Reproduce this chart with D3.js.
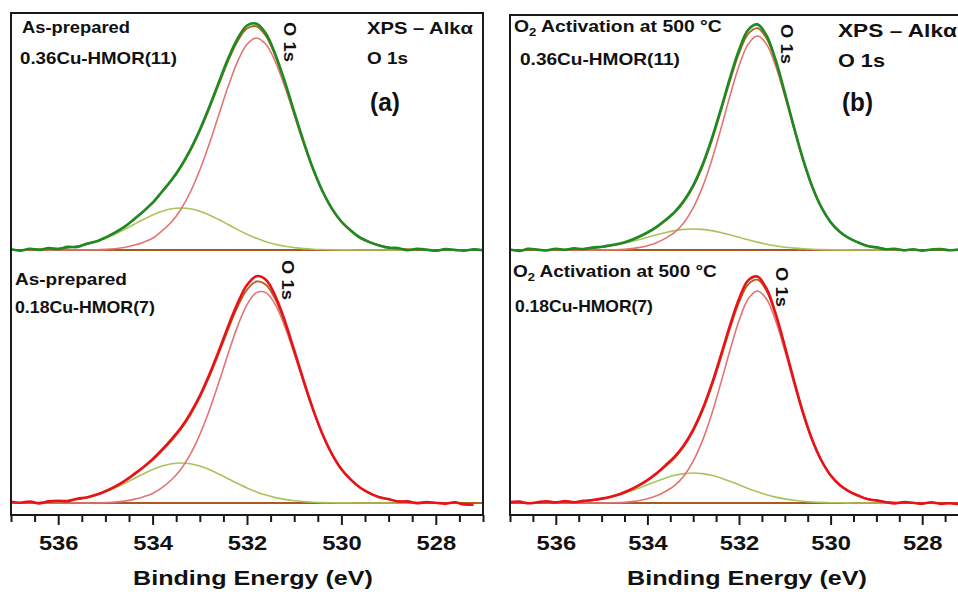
<!DOCTYPE html>
<html>
<head>
<meta charset="utf-8">
<script src="https://cdn.jsdelivr.net/npm/d3@7/dist/d3.min.js"></script>
<style>
  body { margin: 0; background: #fff; }
  svg { display: block; }
  text { font-family: "Liberation Sans", Arial, sans-serif; font-weight: bold; fill: #111; }
</style>
</head>
<body>
<svg id="chart" width="958" height="594"></svg>
<script>
// Binding energy grid (eV), shared by every O 1s spectrum and fitted component
const energy = [537.0, 536.8, 536.6, 536.4, 536.2, 536.0, 535.8, 535.6, 535.4, 535.2,
  535.0, 534.8, 534.6, 534.4, 534.2, 534.0, 533.8, 533.6, 533.4, 533.2,
  533.0, 532.8, 532.6, 532.4, 532.2, 532.0, 531.8, 531.6, 531.4, 531.2,
  531.0, 530.8, 530.6, 530.4, 530.2, 530.0, 529.8, 529.6, 529.4, 529.2,
  529.0, 528.8, 528.6, 528.4, 528.2, 528.0, 527.8, 527.6, 527.4, 527.2, 527.0];

// (a) As-prepared 0.36Cu-HMOR(11): background-subtracted intensity (a.u.)
const aTopData = [0.8, -0.6, 1.2, 0.2, 1.9, 0.9, 3.1, 3.0, 6.2, 8.4,
  12.4, 17.3, 23.1, 30.5, 38.5, 47.3, 58.5, 70.0, 83.8, 100.4,
  120.3, 143.0, 167.4, 191.4, 211.4, 224.5, 226.3, 216.6, 195.6, 168.7,
  138.2, 108.4, 81.3, 59.0, 41.4, 28.5, 19.5, 12.3, 7.9, 4.6,
  2.2, 2.0, -0.3, 1.1, 0.4, -0.8, 0.9, 0.1, -0.7, 0.6, -0.2];
const aTopFit = [0.1, 0.1, 0.3, 0.5, 0.8, 1.4, 2.4, 3.7, 5.7, 8.5,
  12.3, 17.1, 22.9, 30.2, 38.1, 46.8, 57.9, 69.2, 82.8, 99.2,
  118.8, 141.2, 165.3, 188.9, 208.8, 221.5, 223.7, 214.0, 194.1, 167.1,
  137.2, 107.5, 80.8, 58.5, 41.1, 28.1, 19.2, 11.7, 7.6, 4.7,
  2.5, 1.3, 0.6, 0.2, 0, 0, 0, 0, 0, 0, 0];
const aTopMain = [0, 0, 0, 0, 0, 0, 0, 0, 0, 0.2,
  0.6, 1.3, 2.5, 4.7, 7.6, 11.7, 19.1, 28.0, 40.8, 58.0,
  80.0, 106.1, 134.8, 163.4, 188.4, 205.7, 212.0, 205.7, 188.4, 163.4,
  134.8, 106.1, 80.0, 58.0, 40.8, 28.0, 19.1, 11.7, 7.6, 4.7,
  2.5, 1.3, 0.6, 0.2, 0, 0, 0, 0, 0, 0, 0];
const aTopMinor = [0.1, 0.1, 0.3, 0.5, 0.8, 1.4, 2.4, 3.7, 5.7, 8.3,
  11.7, 15.8, 20.4, 25.5, 30.5, 35.1, 38.8, 41.2, 42.0, 41.2,
  38.8, 35.1, 30.5, 25.5, 20.4, 15.8, 11.7, 8.3, 5.7, 3.7,
  2.4, 1.4, 0.8, 0.5, 0.3, 0.1, 0.1, 0, 0, 0,
  0, 0, 0, 0, 0, 0, 0, 0, 0, 0, 0];

// (a) As-prepared 0.18Cu-HMOR(7)
const aBotData = [1.2, 0.3, 1.5, -0.4, 1.6, 2.3, 1.9, 4.2, 5.6, 8.2,
  11.8, 16.3, 21.9, 28.6, 35.8, 43.9, 53.3, 63.7, 75.2, 89.7,
  107.2, 128.3, 151.8, 176.6, 199.6, 218.0, 226.8, 223.2, 207.0, 182.4,
  152.8, 122.3, 93.6, 68.7, 48.9, 33.8, 23.4, 15.2, 9.8, 5.7,
  3.9, 1.5, 1.6, -0.2, 0.9, 0.2, -0.6, 0.7, -1.4, -1.8, null];
const aBotFit = [0.1, 0.1, 0.2, 0.4, 0.8, 1.4, 2.2, 3.6, 5.4, 7.9,
  11.5, 15.9, 21.4, 27.9, 35.1, 42.9, 52.2, 62.4, 73.8, 88.0,
  105.3, 126.0, 149.2, 173.6, 196.1, 213.3, 221.5, 218.3, 203.7, 180.2,
  151.5, 121.6, 93.4, 68.8, 49.0, 33.9, 23.3, 15.3, 9.5, 6.1,
  3.6, 1.9, 0.9, 0.4, 0, 0, 0, 0, 0, 0, 0];
const aBotMain = [0, 0, 0, 0, 0, 0, 0, 0, 0, 0,
  0.4, 0.9, 1.9, 3.6, 6.1, 9.5, 15.3, 23.2, 33.8, 48.8,
  68.4, 92.6, 120.2, 149.3, 176.6, 198.3, 210.4, 210.4, 198.3, 176.6,
  149.3, 120.2, 92.6, 68.4, 48.8, 33.8, 23.2, 15.3, 9.5, 6.1,
  3.6, 1.9, 0.9, 0.4, 0, 0, 0, 0, 0, 0, 0];
const aBotMinor = [0.1, 0.1, 0.2, 0.4, 0.8, 1.4, 2.2, 3.6, 5.4, 7.9,
  11.1, 15.0, 19.5, 24.3, 29.0, 33.4, 36.9, 39.2, 40.0, 39.2,
  36.9, 33.4, 29.0, 24.3, 19.5, 15.0, 11.1, 7.9, 5.4, 3.6,
  2.2, 1.4, 0.8, 0.4, 0.2, 0.1, 0.1, 0, 0, 0,
  0, 0, 0, 0, 0, 0, 0, 0, 0, 0, 0];

// (b) O2 activation at 500 °C, 0.36Cu-HMOR(11)
const bTopData = [0.6, -0.9, 1.1, 0.4, -0.5, 1.3, 0.2, 1.6, 0.9, 2.4,
  3.3, 4.8, 6.4, 9.3, 13.0, 17.5, 23.1, 30.2, 38.3, 49.4,
  64.6, 84.9, 110.5, 140.3, 171.6, 200.0, 220.2, 225.6, 214.6, 190.0,
  157.4, 122.8, 90.5, 63.3, 42.6, 27.9, 18.2, 11.8, 7.6, 4.0,
  2.7, 0.8, 1.2, -0.4, 0.8, -0.6, 0.5, 1.0, -0.3, 0.4, -0.8];
const bTopFit = [0, 0, 0, 0.1, 0.1, 0.2, 0.4, 0.7, 1.2, 1.9,
  2.8, 4.4, 6.2, 9.0, 12.6, 17.0, 22.5, 29.4, 37.3, 48.2,
  63.2, 83.2, 108.5, 137.9, 168.8, 196.7, 216.1, 221.9, 211.7, 188.2,
  156.4, 122.3, 90.3, 63.3, 42.6, 27.8, 18.0, 12.0, 7.3, 4.3,
  2.4, 1.1, 0.4, 0.2, 0, 0, 0, 0, 0, 0, 0];
const bTopMain = [0, 0, 0, 0, 0, 0, 0, 0, 0, 0,
  0, 0.2, 0.4, 1.1, 2.4, 4.3, 7.3, 11.9, 17.9, 27.6,
  42.2, 62.6, 89.1, 120.4, 153.6, 184.0, 205.9, 214.0, 205.9, 184.0,
  153.6, 120.4, 89.1, 62.6, 42.2, 27.6, 17.9, 11.9, 7.3, 4.3,
  2.4, 1.1, 0.4, 0.2, 0, 0, 0, 0, 0, 0, 0];
const bTopMinor = [0, 0, 0, 0.1, 0.1, 0.2, 0.4, 0.7, 1.2, 1.9,
  2.8, 4.2, 5.8, 7.9, 10.2, 12.7, 15.2, 17.5, 19.4, 20.6,
  21.0, 20.6, 19.4, 17.5, 15.2, 12.7, 10.2, 7.9, 5.8, 4.2,
  2.8, 1.9, 1.2, 0.7, 0.4, 0.2, 0.1, 0.1, 0, 0,
  0, 0, 0, 0, 0, 0, 0, 0, 0, 0, 0];

// (b) O2 activation at 500 °C, 0.18Cu-HMOR(7)
const bBotData = [0.9, 1.4, -0.3, 0.8, 1.7, 0.6, 1.9, 0.8, 2.1, 3.0,
  4.4, 6.3, 8.9, 12.7, 17.3, 22.9, 29.7, 37.8, 46.5, 58.0,
  73.4, 93.4, 118.3, 147.1, 177.2, 204.1, 222.6, 226.4, 214.5, 189.4,
  156.9, 122.3, 90.1, 63.0, 42.5, 27.7, 18.1, 11.7, 7.5, 3.9,
  2.6, 0.8, -0.4, 0.9, 0.2, -0.7, 0.8, -0.9, -0.2, -1.1, -0.6];
const bBotFit = [0, 0, 0, 0.1, 0.2, 0.3, 0.6, 1.0, 1.7, 2.7,
  4.1, 6.1, 8.7, 12.4, 16.9, 22.4, 29.0, 36.9, 45.4, 56.7,
  71.8, 91.5, 116.0, 144.4, 174.0, 200.5, 218.6, 223.3, 212.3, 188.2,
  156.3, 122.0, 90.0, 63.1, 42.4, 27.6, 17.9, 11.9, 7.2, 4.2,
  2.3, 1.1, 0.4, 0.2, 0, 0, 0, 0, 0, 0, 0];
const bBotMain = [0, 0, 0, 0, 0, 0, 0, 0, 0, 0,
  0, 0.2, 0.4, 1.1, 2.3, 4.2, 7.2, 11.8, 17.7, 27.3,
  41.8, 62.1, 88.3, 119.3, 152.2, 182.3, 204.0, 212.0, 204.0, 182.3,
  152.2, 119.3, 88.3, 62.1, 41.8, 27.3, 17.7, 11.8, 7.2, 4.2,
  2.3, 1.1, 0.4, 0.2, 0, 0, 0, 0, 0, 0, 0];
const bBotMinor = [0, 0, 0, 0.1, 0.2, 0.3, 0.6, 1.0, 1.7, 2.7,
  4.1, 5.9, 8.3, 11.3, 14.6, 18.2, 21.8, 25.1, 27.7, 29.4,
  30.0, 29.4, 27.7, 25.1, 21.8, 18.2, 14.6, 11.3, 8.3, 5.9,
  4.1, 2.7, 1.7, 1.0, 0.6, 0.3, 0.2, 0.1, 0, 0,
  0, 0, 0, 0, 0, 0, 0, 0, 0, 0, 0];

// Flat background under each spectrum
const backgroundEnergy = [537, 527];
const backgroundLevel = [0, 0];

// Axis ticks (eV)
const majorTicks = [536, 534, 532, 530, 528];
const minorTicks = [537, 536.5, 535.5, 535, 534.5, 533.5, 533, 532.5, 531.5, 531,
  530.5, 529.5, 529, 528.5, 527.5, 527];

const colors = {
  dataGreen: "#1d8a22",
  dataRed: "#ea1219",
  fit: "#b0621e",
  main: "#e27474",
  minor: "#aac35c",
  background: "#a85a22"
};

const panels = [
  {
    x0: 11, x1: 483, y0: 13, y1: 515, yDomain: [-12, 490], titleX: 253,
    spectra: [
      { offset: 253, data: aTopData, fit: aTopFit, main: aTopMain, minor: aTopMinor, color: colors.dataGreen },
      { offset: 0, data: aBotData, fit: aBotFit, main: aBotMain, minor: aBotMinor, color: colors.dataRed }
    ]
  },
  {
    x0: 510, x1: 968, y0: 15, y1: 515, yDomain: [-12, 488], titleX: 747,
    spectra: [
      { offset: 253, data: bTopData, fit: bTopFit, main: bTopMain, minor: bTopMinor, color: colors.dataGreen },
      { offset: 0, data: bBotData, fit: bBotFit, main: bBotMain, minor: bBotMinor, color: colors.dataRed }
    ]
  }
];

const svg = d3.select("#chart");

// stretch a text element horizontally (about anchorX) to a given width
function stretch(sel, width, anchorX) {
  const w = sel.node().getComputedTextLength();
  const s = width / w;
  sel.attr("transform", `translate(${anchorX},0) scale(${s},1) translate(${-anchorX},0)`);
  return sel;
}

panels.forEach((p, pi) => {
  const x = d3.scaleLinear().domain([537, 527]).range([p.x0, p.x1]);
  const y = d3.scaleLinear().domain(p.yDomain).range([p.y1, p.y0]);
  const g = svg.append("g");

  const clipId = "clip-" + pi;
  svg.append("clipPath").attr("id", clipId)
    .append("rect").attr("x", p.x0).attr("y", p.y0)
    .attr("width", p.x1 - p.x0).attr("height", p.y1 - p.y0);

  const plot = g.append("g").attr("clip-path", `url(#${clipId})`);

  p.spectra.forEach(s => {
    const line = d3.line()
      .defined(d => d[1] !== null)
      .x(d => x(d[0]))
      .y(d => y(d[1] + s.offset))
      .curve(d3.curveCatmullRom.alpha(0.5));
    const pts = arr => energy.map((e, i) => [e, arr[i]]);

    plot.append("path")
      .attr("d", line(backgroundEnergy.map((e, i) => [e, backgroundLevel[i]])))
      .attr("fill", "none").attr("stroke", colors.background).attr("stroke-width", 2);
    plot.append("path").attr("d", line(pts(s.minor)))
      .attr("fill", "none").attr("stroke", colors.minor).attr("stroke-width", 1.6);
    plot.append("path").attr("d", line(pts(s.main)))
      .attr("fill", "none").attr("stroke", colors.main).attr("stroke-width", 1.6);
    plot.append("path").attr("d", line(pts(s.fit)))
      .attr("fill", "none").attr("stroke", colors.fit).attr("stroke-width", 1.8);
    plot.append("path").attr("d", line(pts(s.data)))
      .attr("fill", "none").attr("stroke", s.color).attr("stroke-width", 2.6)
      .attr("stroke-linejoin", "round");
  });

  // frame
  g.append("rect")
    .attr("x", p.x0).attr("y", p.y0)
    .attr("width", p.x1 - p.x0).attr("height", p.y1 - p.y0)
    .attr("fill", "none").attr("stroke", "#1a1a1a").attr("stroke-width", 2);

  // bottom axis: minor ticks, then labelled major ticks
  const minorAxis = d3.axisBottom(x).tickValues(minorTicks).tickSize(7).tickFormat("");
  const majorAxis = d3.axisBottom(x).tickValues(majorTicks).tickSize(10).tickPadding(10)
    .tickFormat(d3.format("d"));
  const ga = g.append("g").attr("transform", `translate(0,${p.y1})`);
  ga.call(minorAxis);
  const gb = g.append("g").attr("transform", `translate(0,${p.y1})`);
  gb.call(majorAxis);
  [ga, gb].forEach(a => {
    a.select(".domain").remove();
    a.selectAll(".tick line").attr("stroke", "#1a1a1a").attr("stroke-width", 2);
  });
  gb.selectAll(".tick text")
    .attr("font-size", 21).attr("font-family", "Liberation Sans, Arial, sans-serif")
    .attr("font-weight", "bold").attr("fill", "#111")
    .attr("transform", "scale(1.13,1)");

  const title = g.append("text")
    .attr("x", p.titleX).attr("y", 585)
    .attr("text-anchor", "middle").attr("font-size", 21)
    .text("Binding Energy (eV)");
  stretch(title, 240, p.titleX);
});

// annotations
function label(x, y, txt, size, width) {
  const t = svg.append("text").attr("x", x).attr("y", y).attr("font-size", size).text(txt);
  return width ? stretch(t, width, x) : t;
}
function activation(x, y, size, width) {
  const t = svg.append("text").attr("x", x).attr("y", y).attr("font-size", size);
  t.append("tspan").text("O");
  t.append("tspan").attr("font-size", size * 0.68).attr("dy", 4).text("2");
  t.append("tspan").attr("dy", -4).text(" Activation at 500 °C");
  return stretch(t, width, x);
}
function peakTag(x, y) {
  const t = svg.append("text").attr("font-size", 16.5).text("O 1s");
  const s = 40 / t.node().getComputedTextLength();
  t.attr("transform", `translate(${x},${y}) rotate(90) scale(${s},1)`);
}

// panel (a)
label(22, 33, "As-prepared", 16.5, 108);
label(20, 64, "0.36Cu-HMOR(11)", 16.5, 157);
peakTag(284, 22);
label(367, 34, "XPS – Alkα", 16.5, 106);
label(367, 64, "O 1s", 16.5, 41);
label(370, 111, "(a)", 25, 30);
label(15, 285, "As-prepared", 16.5, 112);
label(15, 313, "0.18Cu-HMOR(7)", 16, 140);
peakTag(282, 260);

// panel (b)
activation(514, 32, 16.5, 208);
label(520, 65, "0.36Cu-HMOR(11)", 16.5, 160);
peakTag(781, 24);
label(838, 37, "XPS – Alkα", 17.5, 119);
label(838, 67, "O 1s", 17.5, 47);
label(842, 111, "(b)", 25, 31);
activation(513, 277, 16.5, 204);
label(515, 312, "0.18Cu-HMOR(7)", 16, 138);
peakTag(776, 267);
</script>
</body>
</html>
